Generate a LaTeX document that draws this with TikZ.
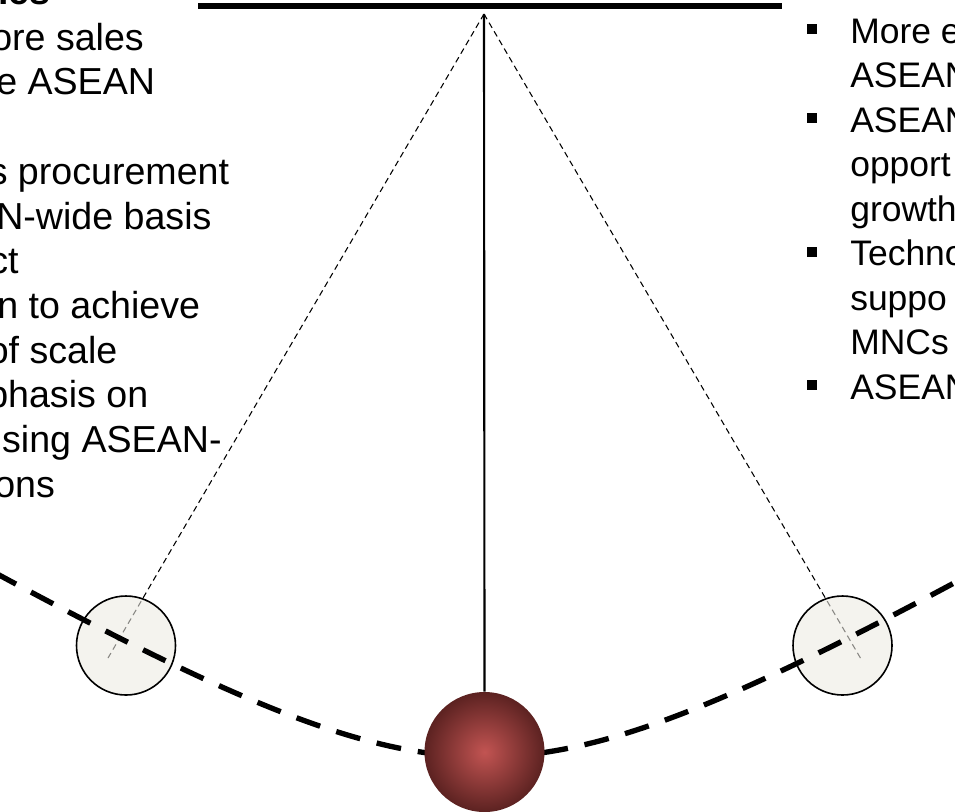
\documentclass[tikz,border=0pt]{standalone}
\usepackage{fontspec}
\setmainfont{Liberation Sans}
\definecolor{bobred}{RGB}{194,84,82}
\definecolor{bobdark}{RGB}{92,34,33}
\definecolor{sidefill}{RGB}{236,234,226}

\begin{document}
\begin{tikzpicture}[x=0.75pt, y=-0.75pt,
	lefttext/.style={anchor=base west, inner sep=0pt, font=\fontsize{28.2}{34}\selectfont},
	righttext/.style={anchor=base west, inner sep=0pt, font=\fontsize{26.6}{32}\selectfont},
	bulletbox/.style={fill=black, inner sep=0pt, minimum size=7.5pt},
	stringline/.style={dash pattern=on 4.5pt off 3pt, line width=0.8pt},
	sidebob/.style={circle, inner sep=0pt, minimum size=74.25pt, draw, line width=1.2pt, fill=sidefill, fill opacity=0.58}]
	\useasboundingbox (0,0) rectangle (955,811);
	\clip (0,0) rectangle (955,811);
	\draw[line width=4.5pt] (198,6) -- (782,6);
	\coordinate (pivot) at (484,14);
	\coordinate (lend) at (108,658);
	\coordinate (rend) at (861,659);
	\draw[stringline] (pivot) -- (lend);
	\draw[stringline] (pivot) -- (rend);
	\node[sidebob] (lbob) at (126,645.5) {};
	\node[sidebob] (rbob) at (842.5,645.5) {};
	\draw[line width=4pt, dash pattern=on 18.75pt off 12.75pt] plot[domain=-4.9:4.9, samples=120] ({484+100*\x}, {898.5-100*sqrt(2.0022+0.36*\x*\x)});
	\node[circle, inner sep=0pt, minimum size=90pt, inner color=bobred, outer color=bobdark] (bob) at (484.5,752) {};
	\draw[line width=1.6pt] (pivot) -- (bob.north);

	% left column
	\node[lefttext, font=\bfseries\fontsize{28.2}{34}\selectfont] (head) at (-2,4.5) {ies};
	\node[lefttext] (l1) at (-9,50) {ore sales};
	\node[lefttext] (l2) at (-4,94.7) {e ASEAN};
	\node[lefttext] (l3) at (-11.5,184) {s procurement};
	\node[lefttext] (l4) at (-4,229) {N-wide basis};
	\node[lefttext] (l5) at (-11,273.5) {ct};
	\node[lefttext] (l6) at (-3,318) {n to achieve};
	\node[lefttext] (l7) at (-12.5,363) {of scale};
	\node[lefttext] (l8) at (-13,407.6) {phasis on};
	\node[lefttext] (l9) at (-19,452) {using ASEAN-};
	\node[lefttext] (l10) at (-6,497) {ons};

	% right column
	\node[bulletbox] (b1) at (812,29) {};
	\node[bulletbox] (b2) at (812,118) {};
	\node[bulletbox] (b3) at (812,251.5) {};
	\node[bulletbox] (b4) at (812,385) {};
	\node[righttext] (r1) at (850,43) {More e};
	\node[righttext] (r2) at (850,87.5) {ASEAN};
	\node[righttext] (r3) at (850,132) {ASEAN};
	\node[righttext] (r4) at (850,176.5) {opport};
	\node[righttext] (r5) at (850,221) {growth};
	\node[righttext] (r6) at (850,265.5) {Techno};
	\node[righttext] (r7) at (850,310) {suppo};
	\node[righttext] (r8) at (850,354.5) {MNCs};
	\node[righttext] (r9) at (850,399) {ASEAN};
\end{tikzpicture}
\end{document}
